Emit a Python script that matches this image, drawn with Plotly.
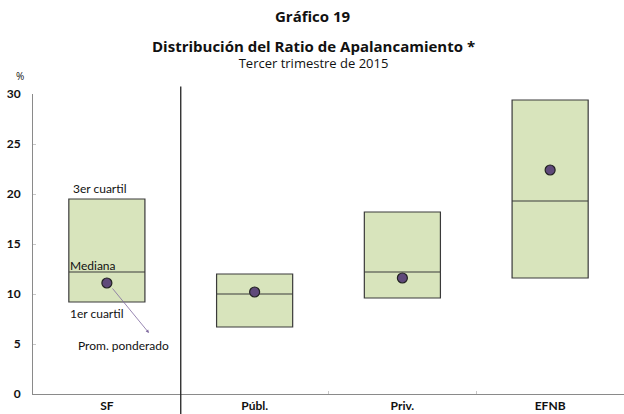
import plotly.graph_objects as go

# Distribución del ratio de apalancamiento, 3T 2015
categories = ["SF", "Públ.", "Priv.", "EFNB"]
q1 = [9.2, 6.7, 9.6, 11.6]
median = [12.2, 10.0, 12.2, 19.3]
q3 = [19.5, 12.0, 18.2, 29.4]
weighted_avg = [11.1, 10.2, 11.6, 22.4]
y_ticks = [0, 5, 10, 15, 20, 25, 30]

FONT = "Lato, 'Open Sans', sans-serif"
TITLE_FONT = "'Open Sans', Lato, sans-serif"
BOX_FILL = "#d8e4bc"
BOX_LINE = "#3a3a3a"
DOT = "#5f497a"

fig = go.Figure()
fig.add_trace(
    go.Box(
        x=categories,
        q1=q1,
        median=median,
        q3=q3,
        lowerfence=q1,
        upperfence=q3,
        width=0.515,
        whiskerwidth=0,
        fillcolor=BOX_FILL,
        line=dict(color=BOX_LINE, width=1.2),
        hoverinfo="skip",
        showlegend=False,
    )
)
fig.add_trace(
    go.Scatter(
        x=categories,
        y=weighted_avg,
        mode="markers",
        marker=dict(size=10, color=DOT, line=dict(color="#222", width=1.2)),
        hoverinfo="skip",
        showlegend=False,
    )
)

# vertical divider between SF and the rest
fig.add_shape(
    type="line", xref="x", yref="paper", x0=0.5, x1=0.5, y0=-0.07, y1=1.025,
    line=dict(color="#222", width=1.3),
)

ann_font = dict(family=FONT, size=12, color="#111")
fig.add_annotation(x=-0.245, y=20.6, text="3er cuartil", showarrow=False,
                   xanchor="left", font=ann_font)
fig.add_annotation(x=-0.26, y=12.9, text="Mediana", showarrow=False,
                   xanchor="left", font=ann_font)
fig.add_annotation(x=-0.26, y=8.1, text="1er cuartil", showarrow=False,
                   xanchor="left", font=ann_font)
fig.add_annotation(x=-0.21, y=4.9, text="Prom. ponderado", showarrow=False,
                   xanchor="left", font=ann_font)
fig.add_annotation(
    x=0.285, y=6.1, ax=0.03, ay=10.7, xref="x", yref="y", axref="x", ayref="y",
    text="", showarrow=True, arrowhead=2, arrowsize=0.8, arrowwidth=0.8,
    arrowcolor="#7f6a9f",
)

title_font = dict(family=TITLE_FONT, color="#111")
fig.add_annotation(x=0.474, y=1, xref="paper", yref="paper", yshift=78, yanchor="middle",
                   text="<b>Gráfico 19</b>", showarrow=False,
                   font=dict(size=15, **title_font), xanchor="center")
# title + subtitle in one block so the line spacing stays tight
fig.add_annotation(
    x=0.474, y=1, xref="paper", yref="paper", yshift=40, yanchor="middle",
    text=("<span style='font-size:15px'><b>Distribución del Ratio de Apalancamiento *</b></span>"
          "<br><span style='font-size:13px'>Tercer trimestre de 2015</span>"),
    showarrow=False, font=dict(size=12, **title_font), xanchor="center",
)
fig.add_annotation(x=-0.032, y=1, xref="paper", yref="paper", yshift=18, yanchor="middle",
                   text="%", showarrow=False, font=dict(size=10, **title_font))

fig.update_layout(
    width=624,
    height=414,
    margin=dict(l=33, r=0, t=94, b=20, autoexpand=False),
    paper_bgcolor="white",
    plot_bgcolor="white",
    font=dict(family=FONT, size=11, color="#111"),
    xaxis=dict(
        type="category",
        range=[-0.5, 3.5],
        showline=True,
        linecolor="#8a8a8a",
        linewidth=1.3,
        ticks="inside",
        tickson="boundaries",
        ticklen=3,
        tickcolor="#c8c8c8",
        showgrid=False,
        ticklabelstandoff=0,
        tickfont=dict(family=FONT, size=12, color="#111", weight="bold"),
    ),
    yaxis=dict(
        range=[0, 30],
        tickvals=y_ticks,
        showline=True,
        linecolor="#8a8a8a",
        linewidth=1,
        ticks="inside",
        ticklen=3,
        tickcolor="#c8c8c8",
        showgrid=False,
        zeroline=False,
        ticklabelstandoff=9,
        tickfont=dict(family=FONT, size=12, color="#111", weight="bold"),
    ),
)

# drop the browser's default body margin so the figure sits at the page origin
fig.write_html(
    "out.html",
    config={"displayModeBar": False},
    post_script="document.body.style.margin='0';",
)
